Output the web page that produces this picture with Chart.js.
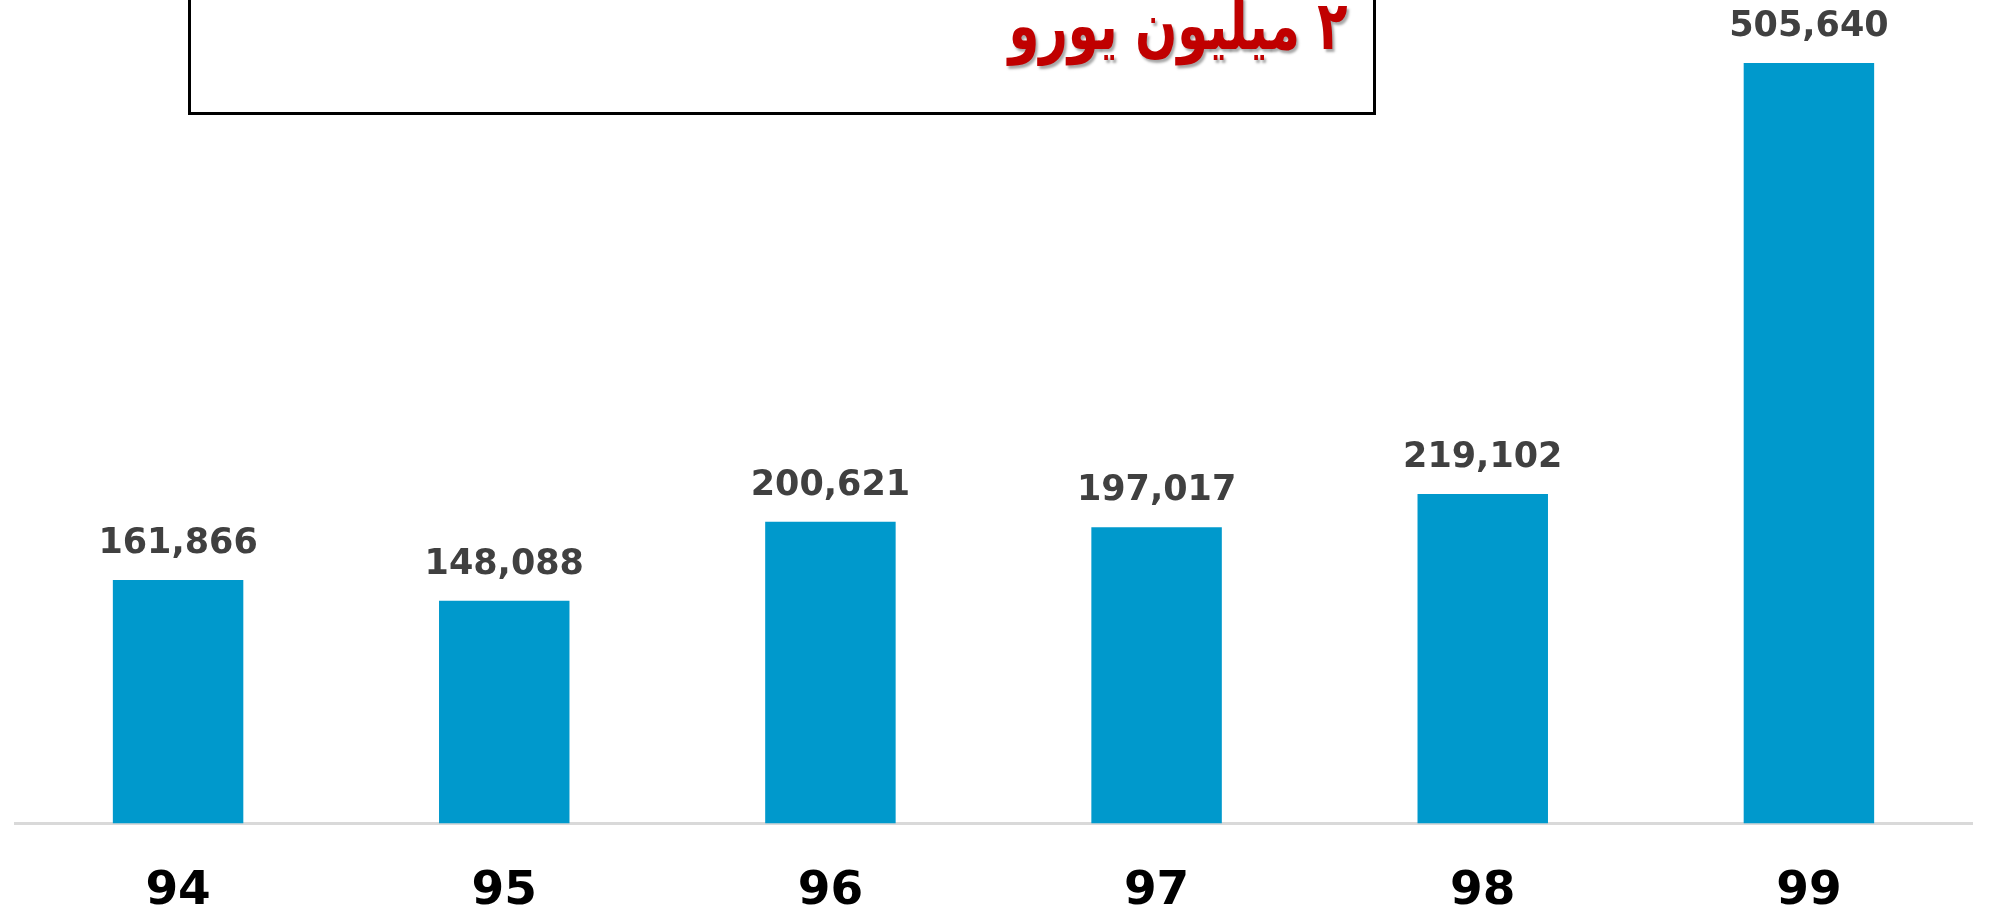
<!DOCTYPE html>
<html>
<head>
<meta charset="utf-8">
<script src="https://cdn.jsdelivr.net/npm/chart.js@4.4.0/dist/chart.umd.min.js"></script>
<style>
  html, body { margin: 0; padding: 0; background: #fff; overflow: hidden; }
  #wrap { position: relative; width: 2011px; height: 911px; overflow: hidden; }
  #note {
    position: absolute; left: 188px; top: -20px; width: 1182px; height: 129px;
    border: 3px solid #000; background: #fff; box-sizing: content-box;
  }
  #noteText {
    position: absolute; right: 664px; top: -14px;
    font-family: "DejaVu Sans", sans-serif; font-weight: bold; font-size: 68px;
    color: #c00000; direction: rtl; white-space: nowrap;
    transform: scaleX(0.73); transform-origin: right center;
    text-shadow: 3px 3px 3px rgba(0,0,0,0.35);
  }
</style>
</head>
<body>
<div id="wrap">
  <canvas id="barChart" width="2011" height="960"></canvas>
  <div id="note"></div>
  <div id="noteText">۲ میلیون یورو</div>
</div>
<script>
// data
const years = ['94', '95', '96', '97', '98', '99'];
const amounts = [161866, 148088, 200621, 197017, 219102, 505640];

// value labels above each bar
const valueLabels = {
    id: 'valueLabels',
    afterDatasetsDraw(chart) {
        const ctx = chart.ctx;
        const meta = chart.getDatasetMeta(0);
        ctx.save();
        ctx.font = 'bold 35px "DejaVu Sans"';
        ctx.fillStyle = '#404040';
        ctx.textAlign = 'center';
        ctx.textBaseline = 'alphabetic';
        meta.data.forEach(function(bar, i) {
            ctx.fillText(amounts[i].toLocaleString('en-US'), bar.x, bar.y - 27);
        });
        ctx.restore();
    }
};

document.addEventListener('DOMContentLoaded', function() {
    const ctx = document.getElementById('barChart').getContext('2d');
    new Chart(ctx, {
        type: 'bar',
        data: {
            labels: years,
            datasets: [{
                data: amounts,
                backgroundColor: '#0099cc',
                borderWidth: 0,
                categoryPercentage: 1,
                barPercentage: 0.4
            }]
        },
        options: {
            responsive: false,
            animation: false,
            layout: { padding: { left: 15, right: 39, top: 0, bottom: 0 } },
            plugins: { legend: { display: false }, tooltip: { enabled: false } },
            scales: {
                y: {
                    display: false,
                    min: 0,
                    max: 547500
                },
                x: {
                    grid: { display: false, drawTicks: false },
                    border: { display: true, color: '#d9d9d9', width: 3 },
                    ticks: {
                        color: '#000',
                        padding: 40,
                        font: { family: 'DejaVu Sans', weight: 'bold', size: 47 }
                    }
                }
            }
        },
        plugins: [valueLabels]
    });
});
</script>
</body>
</html>
